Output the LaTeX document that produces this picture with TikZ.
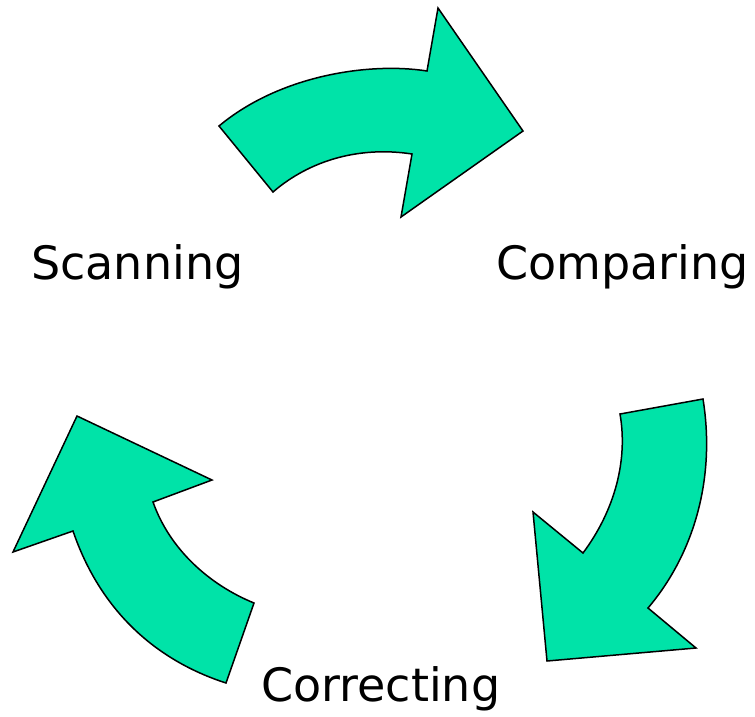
\documentclass[tikz,border=0pt]{standalone}
\usepackage{fontspec}
\setmainfont{DejaVu Sans}
\definecolor{arrowgreen}{RGB}{0,227,168}
\begin{document}
\begin{tikzpicture}[x=1pt,y=-1pt,
  bigarrow/.style={fill=arrowgreen,draw=black,line width=1.5pt,line join=miter},
  lbl/.style={anchor=base west,inner sep=0pt,font=\fontsize{46}{54}\selectfont}]
\useasboundingbox (0,0) rectangle (755,716);
% top arrow
\draw[bigarrow] (219,126) .. controls (280,75) and (370,62) .. (427,71)
  -- (438,8) -- (523,131) -- (401,217) -- (412,154)
  .. controls (360,146) and (310,160) .. (273,192) -- cycle;
% right arrow
\draw[bigarrow] (620,414) -- (703,399)
  .. controls (716,480) and (693,555) .. (648,608)
  -- (696,648) -- (547,661) -- (533,512) -- (583,553)
  .. controls (615,510) and (628,460) .. (620,414) -- cycle;
% left arrow
\draw[bigarrow] (77,416) -- (212,480) -- (153,502)
  .. controls (170,550) and (210,585) .. (254,603)
  -- (226,683)
  .. controls (155,660) and (100,610) .. (73,531)
  -- (13,552) -- cycle;
\node[lbl] (scan) at (31,279) {Scanning};
\node[lbl] (comp) at (496,279) {Comparing};
\node[lbl] (corr) at (261,701) {Correcting};
\end{tikzpicture}
\end{document}
